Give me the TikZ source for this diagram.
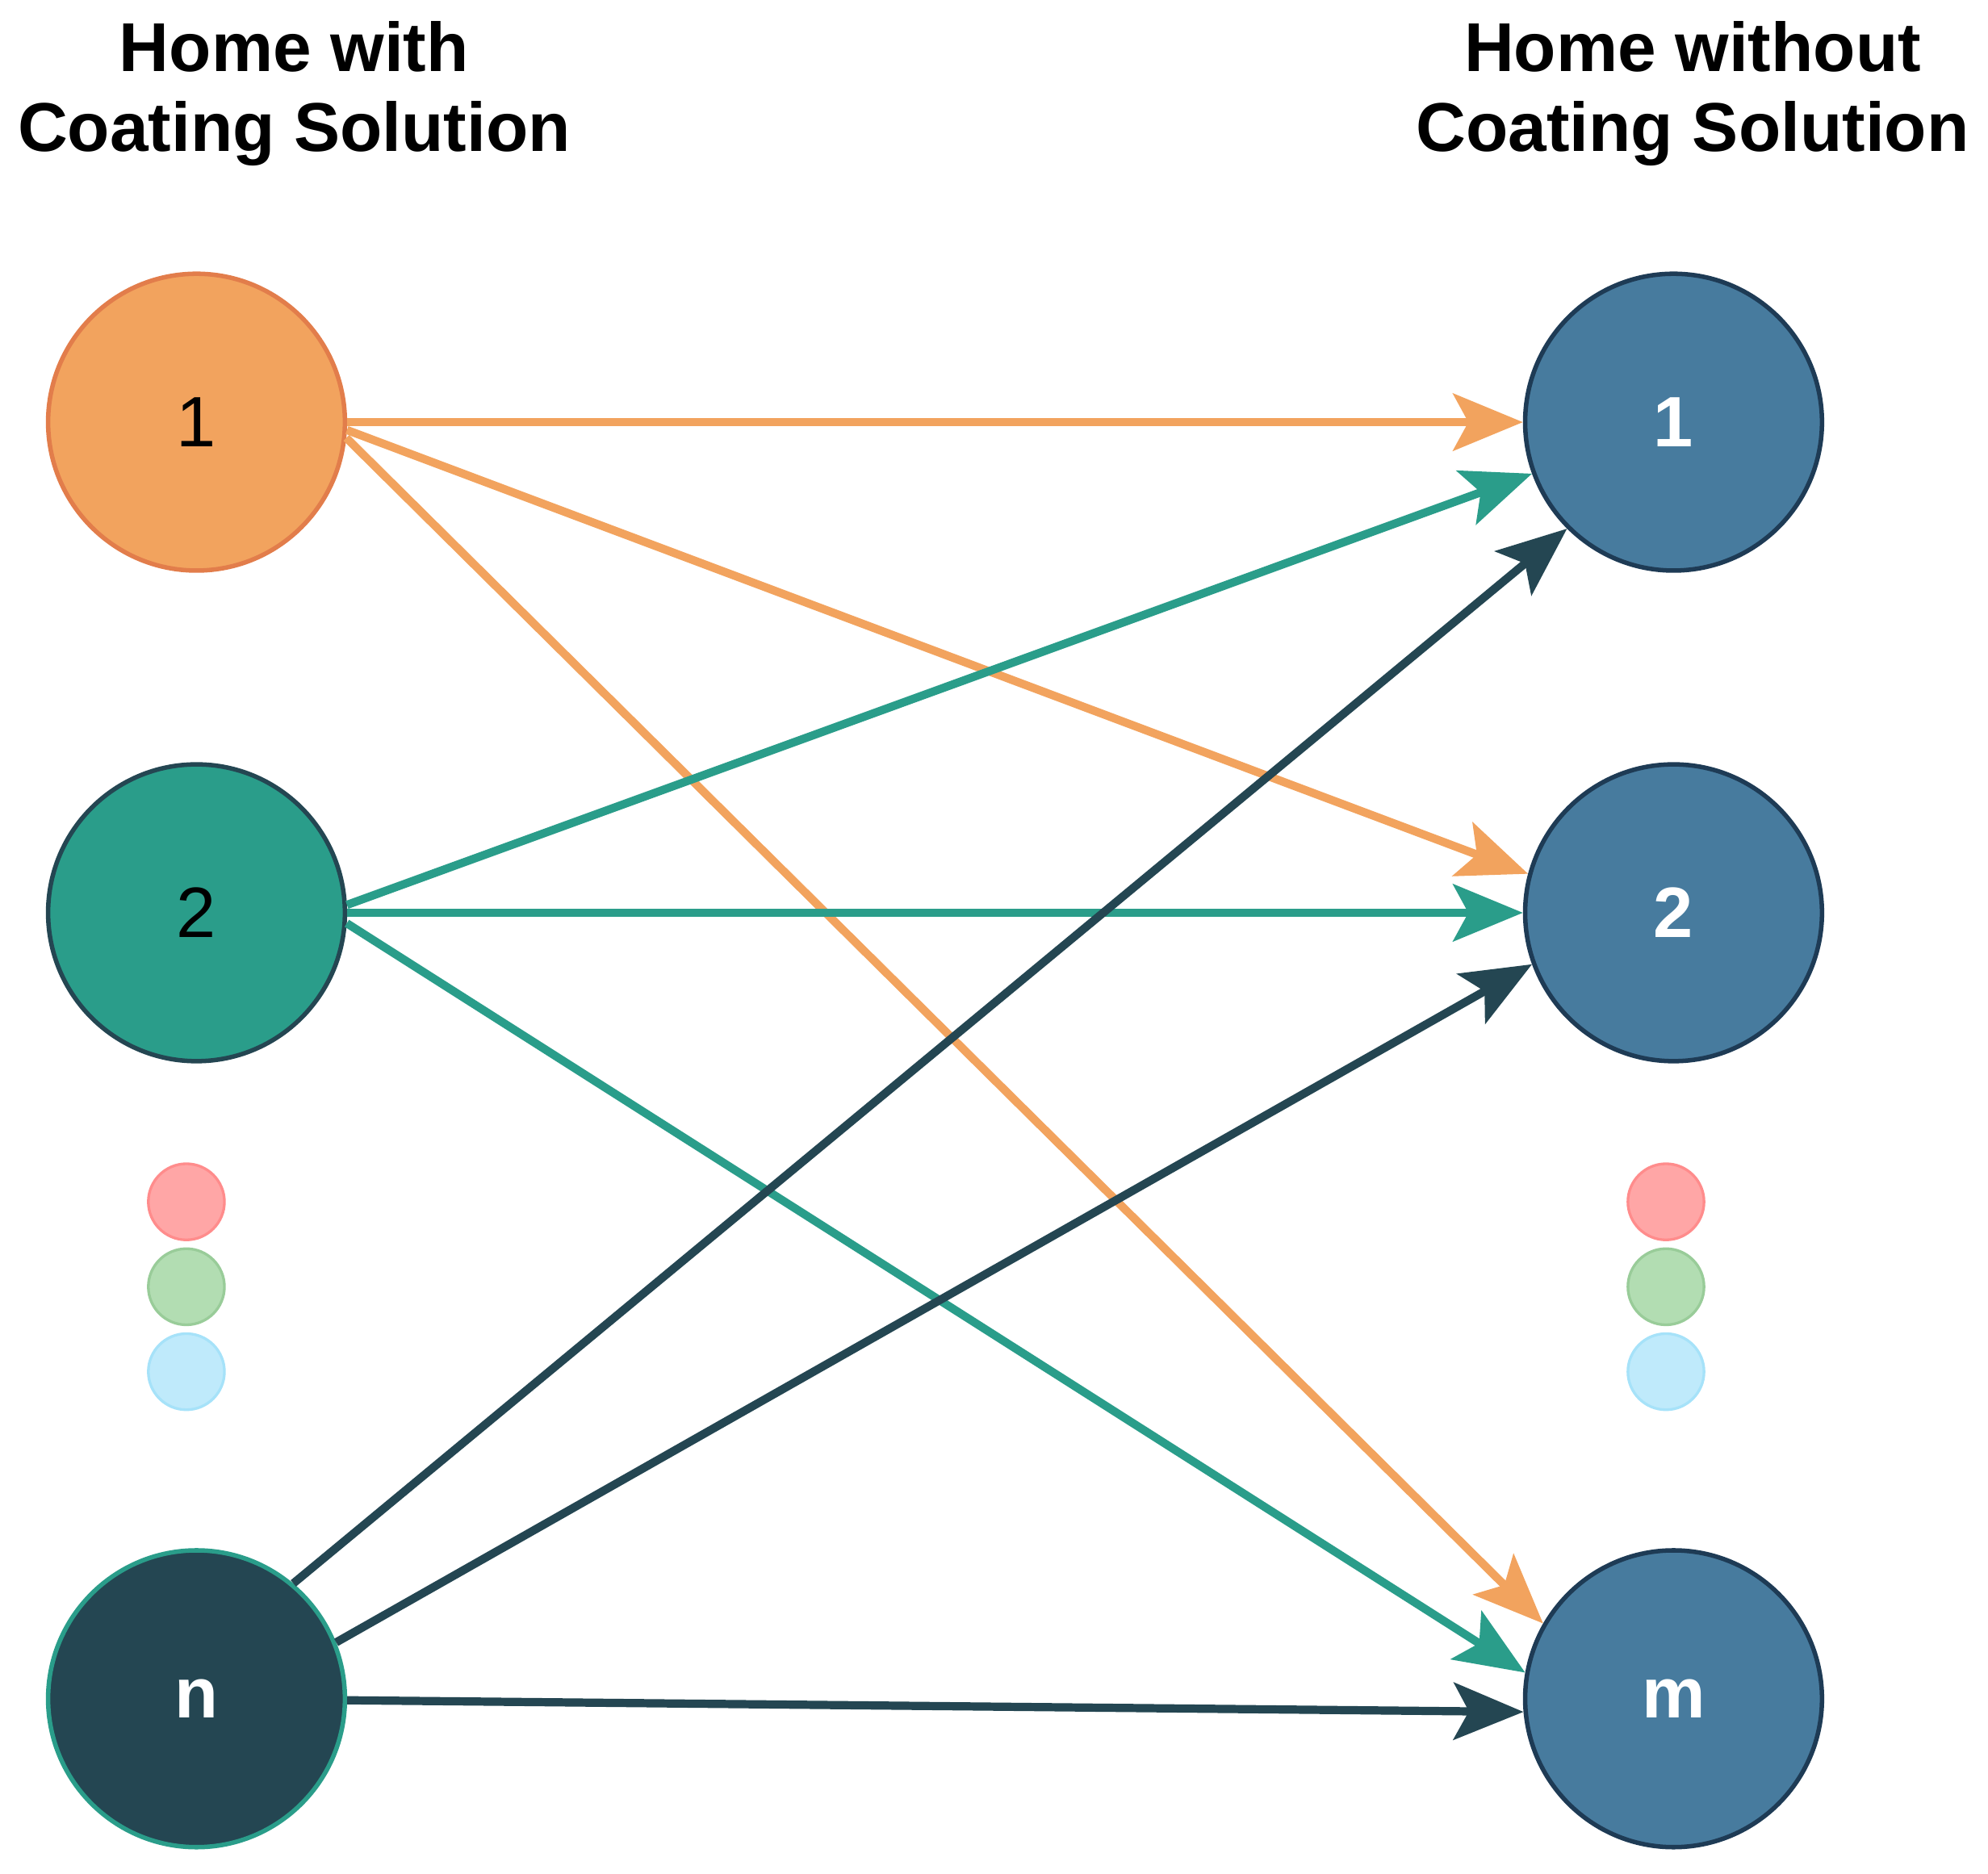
\documentclass[tikz,border=0pt]{standalone}
\usepackage{fontspec}
\setmainfont{Liberation Sans}
\usetikzlibrary{arrows.meta}
\definecolor{org}{HTML}{F2A35E}
\definecolor{orgb}{HTML}{E27D4B}
\definecolor{tea}{HTML}{2A9D8A}
\definecolor{drk}{HTML}{244652}
\definecolor{blu}{HTML}{477B9E}
\definecolor{blub}{HTML}{1E3B55}
\begin{document}
\begin{tikzpicture}[x=0.01cm,y=-0.01cm,
 nd/.style={circle,minimum size=2.34cm,inner sep=0pt,line width=1pt,font=\fontsize{16}{16}\selectfont},
 dt/.style={circle,minimum size=0.6cm,inner sep=0pt,line width=0.6pt},
 ar/.style={line width=0.065cm,-{Stealth[length=0.55cm,width=0.45cm,inset=0.12cm]}},
 ttl/.style={align=center,font=\fontsize{15.5}{18}\selectfont\bfseries}]
\useasboundingbox (0,0) rectangle (1568,1478);
\node[ttl] (t1) at (232,74) {Home with\\Coating Solution};
\node[ttl] (t2) at (1335,74) {Home without\\Coating Solution};
\node[nd,fill=org,draw=orgb] (L1) at (155,333) {1};
\node[nd,fill=tea,draw=drk] (L2) at (155,720) {2};
\node[nd,fill=drk,draw=tea,text=white,font=\fontsize{16}{16}\selectfont\bfseries] (Ln) at (155,1340) {n};
\foreach \n/\y/\t in {R1/333/1,R2/720/2,Rm/1340/m}
 \node[nd,fill=blu,draw=blub,text=white,font=\fontsize{16}{16}\selectfont\bfseries] (\n) at (1320,\y) {\t};
\foreach \x/\s in {147/a,1314/b}{
 \node[dt,fill=red!35!white,draw=red!45!white] (r\s) at (\x,948) {};
 \node[dt,fill=green!55!black!30!white,draw=green!50!black!40!white] (g\s) at (\x,1015) {};
 \node[dt,fill=cyan!25!white,draw=cyan!35!white] (b\s) at (\x,1082) {};
}
\draw[ar,org] (L1) -- (R1);
\draw[ar,org] (L1.-3) -- (R2.165);
\draw[ar,org] (L1.-6) -- (Rm.150);
\draw[ar,tea] (L2.3) -- (R1.200);
\draw[ar,tea] (L2) -- (R2);
\draw[ar,tea] (L2.-4) -- (Rm.170);
\draw[ar,drk] (Ln.50) -- (R1.225);
\draw[ar,drk] (Ln.22) -- (R2.200);
\draw[ar,drk] (Ln) -- (Rm.185);
\end{tikzpicture}
\end{document}
